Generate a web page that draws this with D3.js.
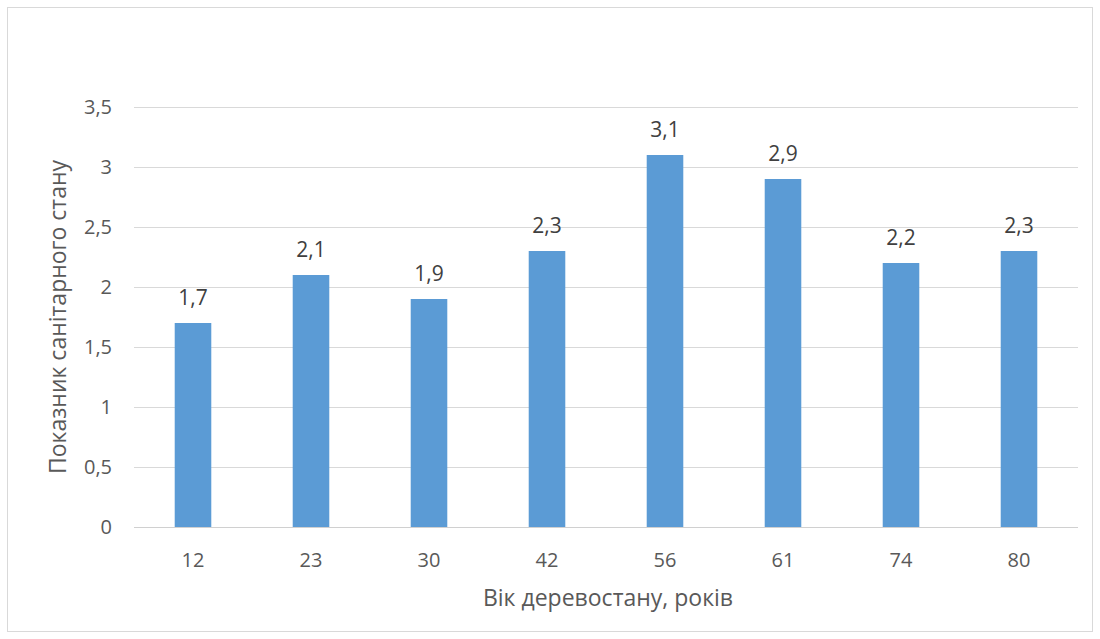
<!DOCTYPE html>
<html><head><meta charset="utf-8">
<script src="https://cdn.jsdelivr.net/npm/d3@7"></script>
<style>body{margin:0;background:#fff}svg{display:block}</style>
</head><body>
<svg id="c" width="1100" height="639"></svg>
<script>
const categories = ["12","23","30","42","56","61","74","80"];
const values = [1.7,2.1,1.9,2.3,3.1,2.9,2.2,2.3];
const yTicks = [0,0.5,1,1.5,2,2.5,3,3.5];
const xTitle = "Вік деревостану, років";
const yTitle = "Показник санітарного стану";

const svg = d3.select("#c");
const font = "'Open Sans', sans-serif";
const m = {left:134, right:1078, top:107, bottom:527};

svg.append("rect").attr("x",7.5).attr("y",7.5).attr("width",1085).attr("height",624)
  .attr("fill","#fff").attr("stroke","#d9d9d9");

const x = d3.scaleBand().domain(categories).range([m.left,m.right]).paddingInner(0.69).paddingOuter(0.345);
const y = d3.scaleLinear().domain([0,3.5]).range([m.bottom,m.top]);

const fmt = d => String(d).replace(".",",");

svg.append("g").selectAll("line").data(yTicks).join("line")
  .attr("x1",m.left).attr("x2",m.right)
  .attr("y1",d=>Math.round(y(d))+0.5).attr("y2",d=>Math.round(y(d))+0.5)
  .attr("stroke",d=>d===0?"#d0d0d0":"#d9d9d9").attr("stroke-width",1);

const ya = svg.append("g").attr("transform",`translate(${m.left},0)`)
  .call(d3.axisLeft(y).tickValues(yTicks).tickFormat(fmt).tickSize(0).tickPadding(22));
ya.select(".domain").remove();
ya.selectAll("text").attr("font-family",font).attr("font-size",20).attr("fill","#595959");

const xa = svg.append("g").attr("transform",`translate(0,${m.bottom})`)
  .call(d3.axisBottom(x).tickSize(0));
xa.select(".domain").remove();
xa.selectAll("text").attr("dy",null).attr("y",40).attr("font-family",font).attr("font-size",20).attr("fill","#595959");

svg.append("g").selectAll("rect").data(values).join("rect")
  .attr("x",(d,i)=>x(categories[i])).attr("width",x.bandwidth())
  .attr("y",d=>y(d)).attr("height",d=>y(0)-y(d)).attr("fill","#5b9bd5");

svg.append("g").selectAll("text").data(values).join("text")
  .attr("x",(d,i)=>x(categories[i])+x.bandwidth()/2).attr("y",d=>y(d)-18)
  .attr("text-anchor","middle").attr("font-family",font).attr("font-size",21).attr("fill","#404040")
  .text(fmt);

svg.append("text").attr("x",(m.left+m.right)/2+2).attr("y",606).attr("text-anchor","middle")
  .attr("font-family",font).attr("font-size",23).attr("fill","#595959").text(xTitle);
svg.append("text").attr("transform",`translate(66,${(m.top+m.bottom)/2}) rotate(-90)`).attr("text-anchor","middle")
  .attr("font-family",font).attr("font-size",23).attr("fill","#595959").text(yTitle);
</script>
</body></html>
